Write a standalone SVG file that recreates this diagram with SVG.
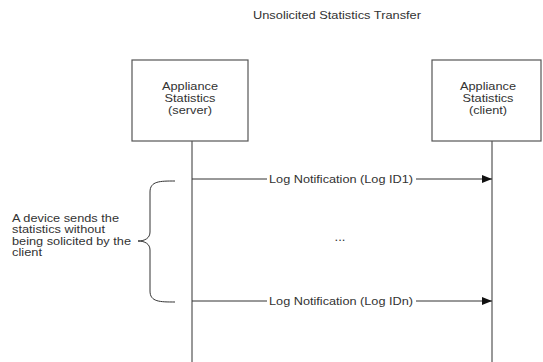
<svg xmlns="http://www.w3.org/2000/svg" width="543" height="362" viewBox="0 0 543 362">
<style>
text{font-family:"Liberation Sans",Arial,sans-serif;font-size:11px;fill:#333}
.c{text-anchor:middle}
.box{fill:#fff;stroke:#555;stroke-width:1.2}
.ln{stroke:#333;stroke-width:1;fill:none}
.lbl{fill:#fff;stroke:none}
</style>
<defs>
<marker id="ah" markerWidth="10" markerHeight="8" refX="10" refY="4" orient="auto" markerUnits="userSpaceOnUse">
<path d="M0,0 L10,4 L0,8 Z" fill="#111"/>
</marker>
</defs>
<rect width="543" height="362" fill="#fff"/>
<text id="title" class="c" x="337" y="19" textLength="168" lengthAdjust="spacingAndGlyphs">Unsolicited Statistics Transfer</text>
<g id="connectors">
<line class="ln" x1="192" y1="141" x2="192" y2="362"/>
<line class="ln" x1="492" y1="141" x2="492" y2="362"/>
<line class="ln" x1="192" y1="179" x2="492" y2="179" marker-end="url(#ah)"/>
<line class="ln" x1="192" y1="301" x2="492" y2="301" marker-end="url(#ah)"/>
<path class="ln" d="M175,181 C160,181 150,181 150,192 L150,232 C150,238 145,241 138,241 C145,241 150,244 150,250 L150,291 C150,302 160,302 175,302"/>
<rect class="lbl" x="267" y="172" width="149" height="14"/>
<text class="c" x="341" y="183" textLength="144" lengthAdjust="spacingAndGlyphs">Log Notification (Log ID1)</text>
<rect class="lbl" x="267" y="294" width="149" height="14"/>
<text class="c" x="341" y="305" textLength="144" lengthAdjust="spacingAndGlyphs">Log Notification (Log IDn)</text>
<text class="c" x="340" y="241" style="font-size:13px">...</text>
</g>
<g id="server">
<rect class="box" x="132" y="60" width="116" height="81"/>
<text class="c" x="190" y="90" textLength="56" lengthAdjust="spacingAndGlyphs">Appliance</text>
<text class="c" x="190" y="102" textLength="51" lengthAdjust="spacingAndGlyphs">Statistics</text>
<text class="c" x="190" y="114" textLength="44" lengthAdjust="spacingAndGlyphs">(server)</text>
</g>
<g id="client">
<rect class="box" x="432" y="60" width="109" height="81"/>
<text class="c" x="488" y="90" textLength="56" lengthAdjust="spacingAndGlyphs">Appliance</text>
<text class="c" x="488" y="102" textLength="51" lengthAdjust="spacingAndGlyphs">Statistics</text>
<text class="c" x="488" y="114" textLength="38" lengthAdjust="spacingAndGlyphs">(client)</text>
</g>
<g id="note">
<text x="12" y="222" textLength="107" lengthAdjust="spacingAndGlyphs">A device sends the</text>
<text x="12" y="233" textLength="93" lengthAdjust="spacingAndGlyphs">statistics without</text>
<text x="12" y="245" textLength="119" lengthAdjust="spacingAndGlyphs">being solicited by the</text>
<text x="12" y="256" textLength="30" lengthAdjust="spacingAndGlyphs">client</text>
</g>
</svg>
